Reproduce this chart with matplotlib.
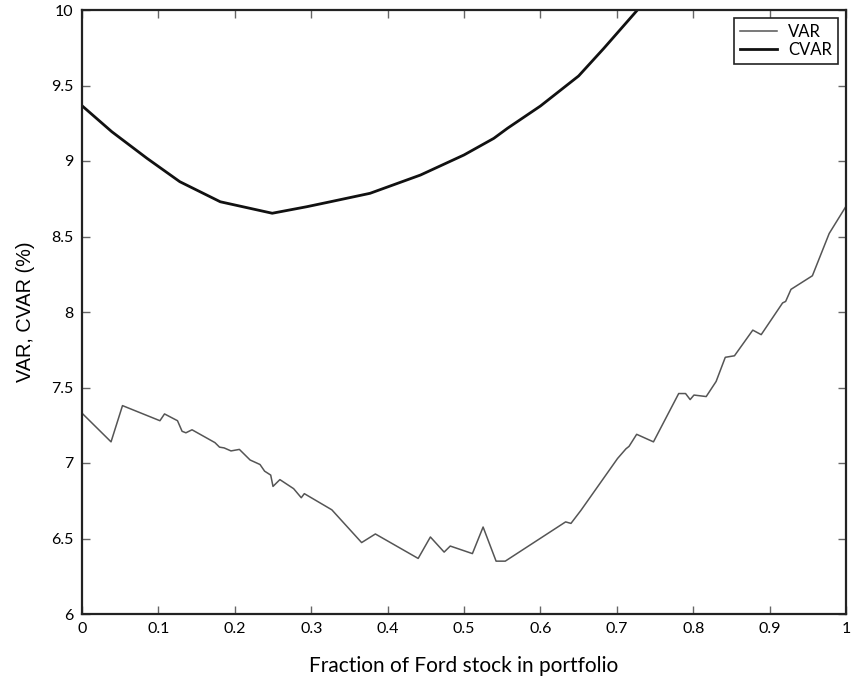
import matplotlib
matplotlib.use("Agg")
import matplotlib.pyplot as plt

plt.rcParams["font.family"] = ["Lato", "DejaVu Sans"]

# VAR (thin line)
var_x = [0.0, 0.038, 0.053, 0.102, 0.108, 0.125, 0.131, 0.136, 0.144, 0.174,
         0.180, 0.186, 0.195, 0.206, 0.220, 0.233, 0.239, 0.247, 0.250, 0.259,
         0.277, 0.287, 0.291, 0.327, 0.366, 0.384, 0.440, 0.456, 0.474, 0.482,
         0.511, 0.525, 0.542, 0.554, 0.633, 0.640, 0.653, 0.701, 0.712, 0.716,
         0.726, 0.748, 0.781, 0.790, 0.796, 0.801, 0.817, 0.830, 0.842, 0.854,
         0.878, 0.889, 0.917, 0.921, 0.928, 0.956, 0.978, 1.0]
var_y = [7.33, 7.14, 7.38, 7.28, 7.325, 7.28, 7.21, 7.20, 7.22, 7.135,
         7.105, 7.10, 7.08, 7.09, 7.02, 6.99, 6.946, 6.92, 6.845, 6.89,
         6.83, 6.77, 6.797, 6.69, 6.473, 6.53, 6.368, 6.51, 6.41, 6.45,
         6.40, 6.576, 6.35, 6.35, 6.61, 6.60, 6.686, 7.03, 7.094, 7.11,
         7.19, 7.14, 7.46, 7.46, 7.42, 7.45, 7.44, 7.54, 7.70, 7.71,
         7.88, 7.85, 8.06, 8.07, 8.15, 8.24, 8.52, 8.70]

# CVAR (thick line)
cvar_x = [0.0, 0.039, 0.085, 0.128, 0.181, 0.249, 0.294, 0.325, 0.377, 0.443,
          0.500, 0.539, 0.557, 0.600, 0.650, 0.683, 0.727]
cvar_y = [9.366, 9.194, 9.018, 8.863, 8.73, 8.654, 8.697, 8.73, 8.786, 8.907,
          9.04, 9.15, 9.217, 9.364, 9.563, 9.746, 10.0]

x_ticks = [0, 0.1, 0.2, 0.3, 0.4, 0.5, 0.6, 0.7, 0.8, 0.9, 1]
x_tick_labels = ["0", "0.1", "0.2", "0.3", "0.4", "0.5", "0.6", "0.7", "0.8", "0.9", "1"]
y_ticks = [6, 6.5, 7, 7.5, 8, 8.5, 9, 9.5, 10]
y_tick_labels = ["6", "6.5", "7", "7.5", "8", "8.5", "9", "9.5", "10"]

fig = plt.figure(figsize=(8.51, 6.78), dpi=100)
ax = fig.add_axes([82 / 851, 64 / 678, 764 / 851, 604 / 678])

ax.plot(var_x, var_y, color="#555555", linewidth=1.1, label="VAR")
ax.plot(cvar_x, cvar_y, color="#111111", linewidth=2.0, label="CVAR")

ax.set_xlim(0, 1)
ax.set_ylim(6, 10)
ax.set_xticks(x_ticks)
ax.set_xticklabels(x_tick_labels)
ax.set_yticks(y_ticks)
ax.set_yticklabels(y_tick_labels)
ax.tick_params(direction="in", length=6, width=1, color="#666666",
               top=True, right=True, labelsize=11.5, pad=6)
for s in ax.spines.values():
    s.set_linewidth(1.6)
    s.set_color("#222222")

ax.set_xlabel("Fraction of Ford stock in portfolio", fontsize=15, labelpad=14)
ax.set_ylabel("VAR, CVAR (%)", fontsize=14.3, labelpad=12,
              family=["Liberation Sans", "DejaVu Sans"])

leg = ax.legend(loc="upper right", fontsize=12, fancybox=False, framealpha=1,
                edgecolor="#222222", handlelength=2.2, borderpad=0.35,
                labelspacing=0.12, handletextpad=0.7, borderaxespad=0,
                bbox_to_anchor=(1 - 8 / 764, 1 - 8 / 604))
leg.get_frame().set_linewidth(1.2)

fig.savefig("out.png", dpi=100)
